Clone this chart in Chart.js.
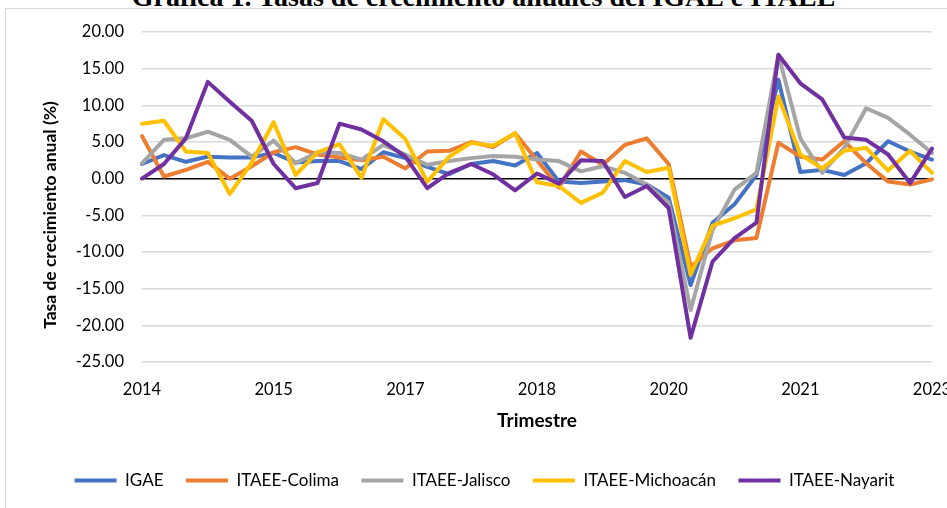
<!DOCTYPE html>
<html lang="es">
<head>
<meta charset="utf-8">
<title>Tasas de crecimiento anuales del IGAE e ITAEE</title>
<script src="https://cdn.jsdelivr.net/npm/chart.js@4.4.1/dist/chart.umd.min.js"></script>
<style>
  html, body { margin: 0; padding: 0; background: #fff; overflow: hidden; }
  #wrap { position: relative; width: 947px; height: 508px; overflow: hidden; }
  #titulo { position: absolute; left: 10px; width: 947px; top: -17px; text-align: center;
            font: bold 28px "Liberation Serif", "Times New Roman", serif; line-height: 28px;
            white-space: nowrap; color: #000; }
  #marco { position: absolute; left: 5px; top: 8px; width: 1000px; height: 600px; border: 1px solid #d9d9d9; }
  canvas { position: absolute; left: 0; top: 0; }
</style>
</head>
<body>
<div id="wrap">
  <div id="titulo">Gráfica 1. Tasas de crecimiento anuales del IGAE e ITAEE</div>
  <div id="marco"></div>
  <canvas id="grafica" width="947" height="508"></canvas>
</div>
<script>
// trimestres 2014-T1 .. 2023-T1
const trimestres = [
  "2014-T1", "2014-T2", "2014-T3", "2014-T4",
  "2015-T1", "2015-T2", "2015-T3", "2015-T4",
  "2016-T1", "2016-T2", "2016-T3", "2016-T4",
  "2017-T1", "2017-T2", "2017-T3", "2017-T4",
  "2018-T1", "2018-T2", "2018-T3", "2018-T4",
  "2019-T1", "2019-T2", "2019-T3", "2019-T4",
  "2020-T1", "2020-T2", "2020-T3", "2020-T4",
  "2021-T1", "2021-T2", "2021-T3", "2021-T4",
  "2022-T1", "2022-T2", "2022-T3", "2022-T4",
  "2023-T1"
];

const igae = [2.0, 3.2, 2.3, 3.0, 2.9, 2.9, 3.5, 2.2, 2.4, 2.4, 1.3, 3.6, 2.8, 1.6, 0.6, 2.0, 2.4, 1.8, 3.5,
  -0.4, -0.6, -0.4, -0.2, -0.8, -2.6, -14.5, -6.0, -3.5, 0.5, 13.5, 0.9, 1.2, 0.5, 2.1, 5.1, 3.7, 2.6];
const colima = [5.8, 0.3, 1.2, 2.3, 0.0, 1.7, 3.6, 4.3, 3.3, 2.9, 2.5, 3.0, 1.4, 3.7, 3.8, 5.0, 4.3, 6.2, 2.5,
  -1.2, 3.7, 1.9, 4.6, 5.5, 2.0, -12.0, -9.5, -8.4, -8.1, 4.9, 3.0, 2.6, 5.1, 2.1, -0.4, -0.8, -0.1];
const jalisco = [2.1, 5.3, 5.5, 6.4, 5.3, 3.0, 5.2, 2.1, 3.6, 3.5, 2.6, 4.6, 3.3, 1.9, 2.4, 2.8, 3.1, 3.0, 2.6,
  2.4, 1.0, 1.7, 0.8, -0.8, -3.3, -17.9, -7.0, -1.5, 0.8, 16.9, 5.5, 0.8, 4.2, 9.6, 8.3, 6.0, 3.5];
const michoacan = [7.5, 7.9, 3.7, 3.5, -2.1, 2.2, 7.7, 0.5, 3.6, 4.7, 0.1, 8.1, 5.4, -0.4, 3.0, 4.9, 4.5, 6.2, -0.5,
  -1.0, -3.3, -1.9, 2.4, 0.9, 1.5, -13.1, -6.4, -5.4, -4.2, 11.2, 3.3, 1.4, 3.8, 4.2, 1.1, 3.8, 0.8];
const nayarit = [0.0, 2.0, 5.5, 13.2, 10.5, 7.9, 2.0, -1.3, -0.6, 7.5, 6.7, 5.1, 3.0, -1.3, 0.8, 2.0, 0.6, -1.6, 0.7,
  -0.7, 2.5, 2.4, -2.5, -1.0, -4.0, -21.7, -11.3, -8.1, -6.0, 16.9, 13.0, 10.8, 5.6, 5.3, 3.3, -0.6, 4.1];

const fuente = 'Lato, "Open Sans", sans-serif';

function serie(label, data, color, order) {
  return {
    label, data, order,
    borderColor: color,
    backgroundColor: color,
    borderWidth: 4,
    pointRadius: 0,
    tension: 0,
    borderJoinStyle: "round",
    borderCapStyle: "round"
  };
}

// titulo del eje y, dibujado a mano para colocarlo como en el original
const tituloEjeY = {
  id: "tituloEjeY",
  afterDraw(chart) {
    const ctx = chart.ctx;
    ctx.save();
    ctx.translate(50, 215);
    ctx.rotate(-Math.PI / 2);
    ctx.font = "bold 17.5px " + fuente;
    ctx.fillStyle = "#000";
    ctx.textAlign = "center";
    ctx.textBaseline = "middle";
    ctx.fillText("Tasa de crecimiento anual (%)", 0, 0);
    ctx.restore();
  }
};

new Chart(document.getElementById("grafica"), {
  type: "line",
  data: {
    labels: trimestres,
    datasets: [
      serie("IGAE", igae, "#4472C4", 5),
      serie("ITAEE-Colima", colima, "#ED7D31", 4),
      serie("ITAEE-Jalisco", jalisco, "#A5A5A5", 3),
      serie("ITAEE-Michoacán", michoacan, "#FFC000", 2),
      serie("ITAEE-Nayarit", nayarit, "#7030A0", 1)
    ]
  },
  options: {
    responsive: false,
    animation: false,
    layout: { padding: { left: 37, right: 15, top: 32, bottom: 9 } },
    plugins: {
      tooltip: { enabled: false },
      legend: {
        position: "bottom",
        labels: {
          boxWidth: 42,
          boxHeight: 4,
          padding: 22.5,
          color: "#000",
          font: { family: fuente, size: 17 },
          sort: (a, b) => a.datasetIndex - b.datasetIndex,
          generateLabels(chart) {
            return Chart.defaults.plugins.legend.labels.generateLabels(chart)
              .map(l => Object.assign(l, { lineWidth: 0 }));
          }
        }
      }
    },
    scales: {
      x: {
        grid: { display: false },
        border: { display: false },
        ticks: {
          autoSkip: false,
          maxRotation: 0,
          padding: 10,
          color: "#000",
          font: { family: fuente, size: 16.5 },
          callback: function (val, i) {
            return i % 6 === 0 ? this.getLabelForValue(val).slice(0, 4) : "";
          }
        },
        title: {
          display: true,
          text: "Trimestre",
          color: "#000",
          font: { family: fuente, size: 19, weight: "bold" },
          padding: { top: 0, bottom: 17 }
        },
        afterFit(s) {
          s.height = 87.5;
          s.paddingLeft = 0;
          s.paddingRight = 0;
        }
      },
      y: {
        min: -25,
        max: 20,
        border: { display: false },
        grid: {
          drawTicks: false,
          color: c => (c.tick && c.tick.value === 0 ? "#000" : "#d9d9d9"),
          lineWidth: 1.6
        },
        ticks: {
          stepSize: 5,
          padding: 18,
          color: "#000",
          font: { family: fuente, size: 16.5 },
          callback: v => v.toFixed(2)
        },
        afterFit(s) {
          s.width = 105;
          s.paddingTop = 0;
          s.paddingBottom = 0;
        }
      }
    }
  },
  plugins: [tituloEjeY]
});
</script>
</body>
</html>
